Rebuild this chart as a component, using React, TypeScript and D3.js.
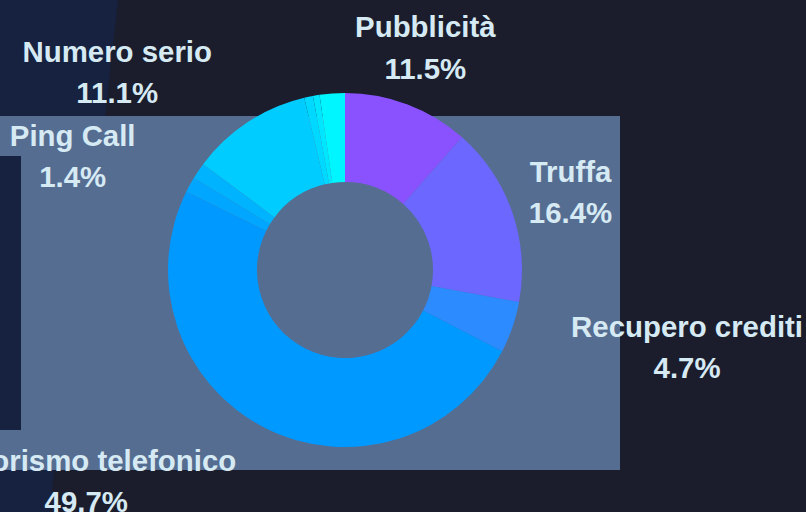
import React from "react";
import * as d3 from "d3";

// ---- data ----
const categories = [
  "Pubblicità",
  "Truffa",
  "Recupero crediti",
  "Terrorismo telefonico",
  "Ping Call",
  "Altro A",
  "Numero serio",
  "Altro B",
  "Altro C",
  "Altro D",
];
const values = [11.5, 16.4, 4.7, 49.7, 1.4, 1.5, 11.1, 0.8, 0.6, 2.3];
const shownLabels = [true, true, true, true, true, false, true, false, false, false];

// ---- styles / layout ----
const palette = [
  "#8a52ff",
  "#6b67ff",
  "#2c8bff",
  "#0099ff",
  "#00a6ff",
  "#00b3ff",
  "#00ccff",
  "#00d9ff",
  "#00e6ff",
  "#00f6ff",
];
// fine adjustments of label placement relative to the arc centroid [dx, dy]
const labelShift: [number, number][] = [
  [-4.5, 2],
  [-1.3, 0],
  [115, -1],
  [-150.5, -3.6],
  [-62, 1.4],
  [0, 0],
  [-96, 2.3],
  [0, 0],
  [0, 0],
  [0, 0],
];

const W = 806;
const H = 512;
const cx = 345;
const cy = 270;
const outerR = 177;
const innerR = 88;
const labelR = 240;
const lineGap = 41.6;

export default function App() {
  const data = categories.map((c, i) => ({ name: c, value: values[i], i }));
  const pie = d3
    .pie<any>()
    .sort(null)
    .value((d: any) => d.value)
    .startAngle(0)
    .endAngle(2 * Math.PI);
  const arcs = pie(data);
  const arc = d3.arc<any>().innerRadius(innerR).outerRadius(outerR);
  const labelArc = d3.arc<any>().innerRadius(labelR).outerRadius(labelR);

  return (
    <div style={{ position: "absolute", left: 0, top: 0 }}>
      <svg width={W} height={H} style={{ display: "block" }}>
        <rect x={0} y={0} width={W} height={H} fill="#1b1d2d" />
        <polygon
          points="0,0 118,0 105,116 54,471 50,512 0,512"
          fill="#16223f"
        />
        <rect x={0} y={116} width={620} height={354} fill="#566d92" />
        <rect x={0} y={156} width={21} height={274} fill="#172240" />
        <g transform={`translate(${cx},${cy})`}>
          {arcs.map((a, i) => (
            <path key={i} d={arc(a) as string} fill={palette[i]} />
          ))}
        </g>
        <g
          fontFamily="'Liberation Sans', Arial, sans-serif"
          fontWeight="bold"
          fontSize={29.4}
          fill="#d6eaf4"
          textAnchor="middle"
        >
          {arcs.map((a, i) => {
            if (!shownLabels[i]) return null;
            const [lx, ly] = labelArc.centroid(a);
            const x = cx + lx + labelShift[i][0];
            const y = cy + ly - 10 + labelShift[i][1];
            return (
              <g key={i}>
                <text x={x} y={y}>
                  {a.data.name}
                </text>
                <text x={x} y={y + lineGap}>
                  {a.data.value.toFixed(1)}%
                </text>
              </g>
            );
          })}
        </g>
      </svg>
    </div>
  );
}
